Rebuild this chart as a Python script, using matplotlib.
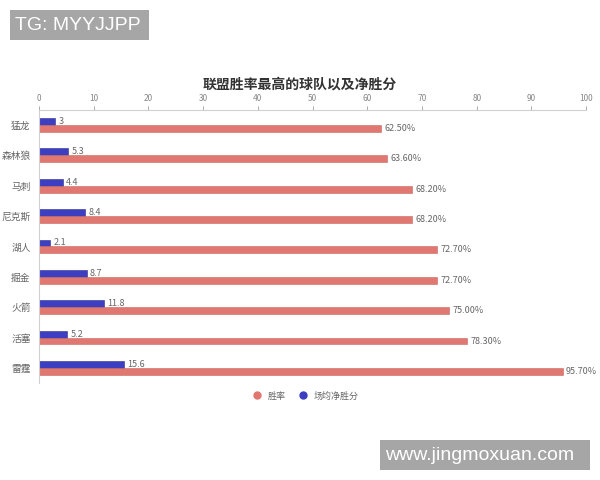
import matplotlib
matplotlib.use('Agg')
from matplotlib import pyplot as plt
from matplotlib.lines import Line2D
from matplotlib.patches import Rectangle
import numpy as np

plt.rcParams['font.family'] = ['Noto Sans CJK SC', 'DejaVu Sans']

teams = ['猛龙', '森林狼', '马刺', '尼克斯', '湖人', '掘金', '火箭', '活塞', '雷霆']
win_rate = [62.5, 63.6, 68.2, 68.2, 72.7, 72.7, 75.0, 78.3, 95.7]
net_points = [3, 5.3, 4.4, 8.4, 2.1, 8.7, 11.8, 5.2, 15.6]
x_ticks = [0, 10, 20, 30, 40, 50, 60, 70, 80, 90, 100]

red = '#E07770'
blue = '#3B3FC0'
txt = '#666666'

fig = plt.figure(figsize=(6, 4.8), dpi=100)
ax = fig.add_axes([0.065, 0.202, 0.912, 0.569])

y = np.arange(len(teams))
h = 0.23
ax.barh(y - h / 2, net_points, height=h, color=blue, edgecolor='#2a2d90', linewidth=0.4)
ax.barh(y + h / 2, win_rate, height=h, color=red, edgecolor='#c86860', linewidth=0.4)

for i in range(len(teams)):
    v = net_points[i]
    ax.text(v + 0.6, y[i] - h / 2, f'{v:g}', va='center', ha='left', fontsize=6.5, color=txt)
    ax.text(win_rate[i] + 0.6, y[i] + h / 2, f'{win_rate[i]:.2f}%', va='center', ha='left',
            fontsize=6.5, color=txt)

ax.set_xlim(0, 100)
ax.set_ylim(len(teams) - 0.5, -0.5)
ax.set_yticks(y)
ax.set_yticklabels(teams)
ax.set_xticks(x_ticks)
ax.xaxis.tick_top()
ax.tick_params(axis='x', labelsize=6, colors='#888888', length=3, width=0.5, pad=2)
ax.tick_params(axis='y', labelsize=7, colors=txt, length=0, pad=6)
for s in ['right', 'bottom']:
    ax.spines[s].set_visible(False)
for s in ['top', 'left']:
    ax.spines[s].set_color('#d0d0d0')
    ax.spines[s].set_linewidth(0.8)

fig.text(0.5, 1 - 85 / 480, '联盟胜率最高的球队以及净胜分', ha='center', va='center',
         fontsize=10, fontweight='bold', color='#333333')

handles = [Line2D([], [], marker='o', linestyle='', color=red, markersize=5),
           Line2D([], [], marker='o', linestyle='', color=blue, markersize=5)]
fig.legend(handles, ['胜率', '场均净胜分'], loc='center', bbox_to_anchor=(0.505, 1 - 396 / 480),
           ncol=2, frameon=False, fontsize=6.5, labelcolor=txt, handletextpad=0.2,
           columnspacing=0.9)

# watermark boxes
fig.add_artist(Rectangle((10 / 600, 1 - 40 / 480), 139 / 600, 30 / 480,
                         transform=fig.transFigure, facecolor='#a6a6a6', edgecolor='none'))
fig.text(15 / 600, 1 - 25 / 480, 'TG: MYYJJPP', ha='left', va='center', fontsize=14,
         color='white', family=['Liberation Sans'])
fig.add_artist(Rectangle((380 / 600, 1 - 470 / 480), 210 / 600, 30 / 480,
                         transform=fig.transFigure, facecolor='#a6a6a6', edgecolor='none'))
fig.text(385 / 600, 1 - 455 / 480, 'www.jingmoxuan.com', ha='left', va='center', fontsize=14,
         color='white', family=['Liberation Sans'])

fig.savefig('out.png', dpi=100)
